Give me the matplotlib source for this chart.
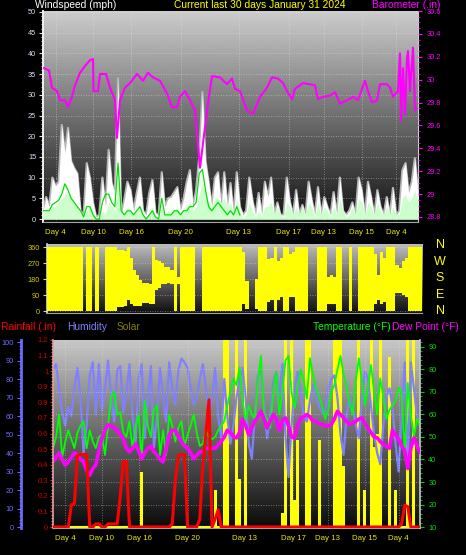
import numpy as np
import matplotlib
matplotlib.use('Agg')
import matplotlib.pyplot as plt
from matplotlib.ticker import MultipleLocator, FuncFormatter

plt.rcParams['font.family'] = ['Liberation Sans', 'DejaVu Sans']

# ---------------- data ----------------
STEP = 0.25  # days between samples

day_labels = ['Day 4', 'Day 10', 'Day 16', 'Day 20', 'Day 13', 'Day 17', 'Day 13', 'Day 15', 'Day 4']
day_label_pos = [1.0, 4.0, 7.05, 11.0, 15.65, 19.65, 22.45, 25.5, 28.25]

wind_gust = [2, 5.3, 3, 10, 8, 9, 22.7, 16, 22, 14,
             12.3, 11, 2, 1, 13.5, 10, 4, 0.5, 1, 10,
             3, 16.7, 8.7, 6.3, 34, 1, 4.6, 9, 7, 2,
             6.3, 10, 2, 1, 6.3, 9.4, 1.4, 1, 11.3, 3,
             5, 5.3, 6.5, 7.7, 2, 5, 9, 11.8, 3, 7,
             15, 30.7, 14, 9, 3, 10, 11.3, 3, 11.3, 3,
             8.7, 1, 11.3, 3, 1, 2, 10, 4.6, 1, 6.3,
             1, 9, 5.3, 10, 1, 4, 1, 1, 10, 4.2,
             1, 7, 1, 3.4, 1, 9, 4.6, 1, 7.7, 1,
             5.3, 3, 1, 6.5, 1, 10, 2, 1, 2, 4,
             1, 10, 7, 1, 9, 5.3, 1, 7, 3, 1,
             5.3, 1, 7.5, 1, 2, 11.8, 13.5, 6.3, 9, 14.7,
             6.3]

wind_speed = [1.5, 2, 2, 3, 3, 4, 5, 6, 6, 5,
              4, 3, 1, 0.5, 2, 3, 2, 0, 0, 2,
              1, 4, 3, 2, 9, 1, 1, 3, 2, 1,
              2, 3, 1, 0, 1, 3, 0.5, 0, 3, 1,
              2, 2, 2, 3, 1, 2, 3, 4, 2, 3,
              6, 9, 6, 4, 3, 5, 5, 4, 5, 3,
              4, 1, 5, 2, 0, 1, 4, 2, 0.5, 2,
              0.5, 3, 3, 4, 1, 3, 1, 0.5, 4, 3,
              1, 3, 1, 3, 1, 4, 3, 0.5, 4, 1,
              3, 2, 0.5, 3, 1, 5, 2, 0.5, 1, 3,
              1, 5, 4, 1, 4, 3, 1, 4, 2, 1,
              3, 1, 3, 1, 1, 5, 6, 4, 5, 7,
              4]

wind_avg = [2, 2, 2, 3.5, 4, 4.5, 6, 8.5, 7, 5,
            4, 3, 2, 0.5, 3, 3, 1, 0, 0, 4,
            6, 6, 4, 3, 13.5, 2, 1, 2, 2, 1,
            2, 3, 1, 0, 1, 2, 0.5, 0, 5, 1,
            1, 1, 2, 2, 1, 2, 2, 3, 3, 4,
            11, 12, 7, 3, 2, 3, 4, 3, 2, 1,
            2, 1, 3, 1]

baro_days = [0.08, 0.48, 0.72, 1.12, 1.36, 1.76, 2.0, 2.32, 2.56, 2.96,
             3.36, 3.76, 4.0, 4.04, 4.4, 4.56, 5.04, 5.36, 5.76, 5.92,
             6.16, 6.56, 6.96, 7.52, 8.0, 8.4, 8.8, 9.36, 9.92, 10.32,
             10.72, 10.96, 11.36, 11.76, 12.16, 12.56, 13.12, 13.52, 14.16, 14.72,
             15.12, 15.36, 15.76, 16.32, 16.8, 17.36, 17.92, 18.32, 18.8, 19.2,
             19.52, 19.92, 20.16, 20.8, 21.36, 21.76, 22.0, 22.4, 22.96, 23.36,
             23.76, 24.32, 24.8, 25.2, 25.52, 25.76, 26.0, 26.32, 26.72, 26.96,
             27.52, 27.76, 28.0, 28.4, 28.56, 28.64, 28.8, 28.96, 29.12, 29.2,
             29.36, 29.6, 29.76, 29.84]
barometer = [30.10, 30.08, 29.93, 29.90, 29.82, 29.82, 29.76, 29.85, 29.95, 30.06,
             30.12, 30.17, 30.18, 29.90, 29.90, 30.05, 30.05, 29.93, 29.82, 29.49,
             29.82, 29.93, 29.97, 30.05, 29.99, 30.06, 30.02, 29.99, 29.88, 29.76,
             29.76, 29.85, 29.90, 29.82, 29.73, 29.23, 29.73, 30.03, 30.02, 29.96,
             30.01, 29.92, 29.90, 29.73, 29.70, 29.85, 29.93, 30.02, 30.01, 29.97,
             29.90, 29.83, 29.92, 29.97, 29.96, 29.95, 29.83, 29.85, 29.86, 29.89,
             29.79, 29.82, 29.85, 29.82, 29.92, 29.99, 29.90, 29.80, 29.82, 29.96,
             29.96, 29.93, 29.85, 29.90, 30.23, 29.64, 30.10, 29.70, 30.19, 30.25,
             29.90, 30.28, 29.73, 29.75]

dir_low = [0, 0, 0, 0, 0, 0, 0, 0, 0, 0,
           0, 0, 0, 0, 0, 0, 0, 0, 0, 0,
           0, 0, 0, 25, 25, 30, 60, 40, 30, 30,
           30, 45, 45, 40, 40, 118, 130, 150, 150, 155,
           150, 0, 150, 0, 0, 0, 0, 0, 0, 0,
           0, 0, 0, 0, 0, 0, 0, 0, 0, 0,
           0, 0, 0, 40, 10, 0, 0, 10, 0, 0,
           0, 50, 60, 0, 60, 80, 0, 0, 80, 80,
           0, 0, 0, 0, 0, 0, 0, 0, 0, 0,
           40, 40, 40, 0, 0, 0, 0, 0, 0, 0,
           0, 0, 0, 0, 0, 40, 60, 40, 50, 0,
           0, 0, 100, 100, 90, 80, 0, 0, 0, 0,
           0]
dir_high = [360, 360, 360, 360, 360, 360, 360, 360, 360, 360,
            360, 360, 0, 360, 360, 0, 360, 0, 0, 360,
            360, 360, 360, 345, 345, 340, 360, 300, 230, 200,
            175, 160, 155, 150, 360, 287, 280, 270, 250, 250,
            230, 360, 190, 360, 360, 360, 360, 360, 0, 0,
            360, 360, 360, 360, 360, 360, 360, 360, 360, 360,
            360, 360, 360, 330, 170, 0, 0, 180, 360, 360,
            360, 290, 300, 360, 280, 300, 360, 360, 320, 330,
            360, 360, 360, 360, 0, 0, 0, 360, 360, 360,
            190, 200, 190, 360, 360, 0, 0, 360, 0, 0,
            360, 360, 360, 360, 360, 320, 200, 330, 300, 360,
            360, 360, 260, 240, 280, 300, 360, 360, 360, 360,
            360]

humidity = [85, 88, 75, 62, 55, 65, 60, 75, 86, 70,
            40, 55, 82, 89, 61, 88, 63, 75, 90, 70,
            57, 85, 87, 62, 72, 88, 60, 46, 80, 88,
            48, 70, 87, 43, 60, 86, 70, 57, 89, 75,
            66, 85, 91, 89, 86, 75, 66, 70, 80, 88,
            75, 61, 70, 86, 60, 48, 80, 60, 45, 55,
            70, 80, 86, 70, 45, 37, 60, 82, 84, 65,
            48, 60, 78, 84, 70, 88, 50, 27, 55, 75,
            84, 72, 60, 57, 68, 77, 72, 65, 62, 61,
            75, 80, 82, 70, 50, 39, 60, 70, 65, 55,
            48, 70, 84, 80, 65, 50, 40, 34, 55, 70,
            75, 65, 45, 30, 60, 89, 34, 89, 75, 60,
            55]

temperature = [45, 50, 60, 41, 48, 53, 49, 45, 52, 55,
               57, 45, 53, 48, 45, 50, 51, 42, 55, 68,
               70, 60, 61, 52, 50, 57, 45, 55, 60, 40,
               66, 55, 50, 62, 64, 42, 53, 42, 60, 55,
               48, 54, 57, 46, 51, 55, 60, 52, 46, 47,
               53, 50, 49, 50, 53, 55, 57, 64, 70, 76,
               73, 81, 66, 57, 64, 60, 58, 75, 86, 60,
               58, 54, 70, 79, 60, 70, 84, 86, 70, 63,
               72, 80, 75, 67, 85, 78, 71, 68, 64, 58,
               62, 70, 73, 80, 86, 78, 72, 65, 60, 75,
               85, 75, 64, 72, 82, 70, 60, 76, 68, 58,
               62, 64, 66, 72, 70, 42, 74, 60, 50, 58,
               55]

dew_point = [39, 41, 43, 40, 37.5, 39, 41, 43, 42, 40,
             39, 35, 33, 36, 37.5, 44, 49.6, 53, 55.5, 55,
             54, 53, 51, 49, 45, 43.4, 45, 46.7, 44, 40.3,
             43, 45, 46, 43.4, 42, 40, 38.9, 45, 51, 53,
             53, 50, 48, 46, 45, 43, 40.3, 42, 43.4, 43.4,
             45, 45, 45, 45, 46.5, 48, 50, 53, 52, 50,
             49.6, 52, 58, 55, 51, 54, 57, 59, 61.4, 58,
             54, 57, 60, 58, 53, 57, 58.5, 55, 50, 49.6,
             55, 58.5, 59, 60, 59, 57, 57, 56, 55.5, 55,
             55, 55.5, 58, 61.4, 60, 58.5, 57, 55.5, 56, 57,
             58, 58.5, 56, 54, 52, 50, 49.6, 48, 46.7, 46,
             45, 53, 51, 49, 46, 44, 36, 45, 49.6, 46,
             43.4]

rainfall = [0, 0, 0, 0, 0, 0, 0.143, 0.15, 0.46, 0.465,
            0.465, 0.465, 0, 0, 0.02, 0.02, 0, 0, 0.02, 0.02,
            0.02, 0.02, 0.2, 0.42, 0.42, 0, 0, 0, 0, 0,
            0, 0, 0, 0, 0, 0, 0, 0, 0, 0.02,
            0.3, 0.46, 0.465, 0.465, 0, 0, 0, 0, 0.05, 0.4,
            0.6, 0.816, 0, 0.05, 0.11, 0, 0, 0, 0, 0,
            0, 0, 0, 0, 0, 0, 0, 0, 0, 0,
            0, 0, 0, 0, 0, 0, 0, 0, 0, 0,
            0, 0, 0, 0, 0, 0, 0, 0, 0, 0,
            0, 0, 0, 0, 0, 0, 0, 0, 0, 0,
            0, 0, 0, 0, 0, 0, 0, 0, 0, 0,
            0, 0, 0, 0, 0.02, 0.14, 0.13, 0, 0, 0,
            0]

solar = [0, 0, 0, 0, 0, 0, 0, 0, 0, 0,
         0, 0, 0, 0, 0, 0, 0, 0, 0, 0,
         0, 0, 0, 0, 0, 0, 0, 0, 0, 0.3,
         0, 0, 0, 0, 0, 0, 0, 0, 0, 0,
         0, 0, 0, 0, 0, 0, 0, 0, 0, 0,
         0, 0, 0, 0.2, 0, 0, 1, 1, 0, 0,
         1, 0.26, 0, 1, 0, 0, 0, 0, 0, 0,
         0, 0, 0, 0, 0, 0.08, 1, 0, 1, 0.15,
         0.47, 0, 0, 1, 1, 0, 0, 0.47, 0, 0,
         0, 0, 1, 1, 1, 0.33, 0, 0, 0, 0,
         1, 0, 0.2, 0, 1, 0.43, 0.5, 1, 0, 0,
         0.91, 0, 0.2, 0, 0, 0, 1, 0, 1, 0,
         0]

wind_ticks = list(range(0, 51, 5))
baro_ticks = [28.8, 29.0, 29.2, 29.4, 29.6, 29.8, 30.0, 30.2, 30.4, 30.6]
dir_ticks = [0, 90, 180, 270, 360]
compass = ['N', 'W', 'S', 'E', 'N']
hum_ticks = list(range(0, 101, 10))
rain_ticks = [0, 0.1, 0.2, 0.3, 0.4, 0.5, 0.6, 0.7, 0.8, 0.9, 1.0, 1.1, 1.2]
temp_ticks = list(range(10, 91, 10))

# ---------------- helpers ----------------
W, H = 466, 555
fig = plt.figure(figsize=(W / 100, H / 100), dpi=100, facecolor='black')


def rect(l, t, r, b):
    return [l / W, 1 - b / H, (r - l) / W, (b - t) / H]


def paint_background(ax, top, bottom):
    shade = np.linspace(top, bottom, 256)[:, None]
    ax.imshow(shade, cmap='gray', vmin=0, vmax=1, aspect='auto',
              extent=(0, 1, 0, 1), transform=ax.transAxes, zorder=0,
              interpolation='bilinear')


def hide_spines(ax, keep=()):
    for name, sp in ax.spines.items():
        sp.set_visible(name in keep)


def fmt_g(v, pos):
    return f'{v:g}'


GRID = dict(color='#e8e8e8', lw=0.6, ls=(0, (1, 2)), alpha=0.55)
TICKFS = 5.3
DAYCOL = '#e6e600'

# ---------------- top panel: wind + barometer ----------------
ax_w = fig.add_axes(rect(43, 11, 418, 222))
paint_background(ax_w, 0.80, 0.07)
t_w = np.arange(len(wind_gust)) * STEP
for y in wind_ticks:
    ax_w.axhline(y, zorder=1, **GRID)
for d in day_label_pos:
    ax_w.axvline(d, zorder=1, **GRID)
ax_w.plot(t_w, wind_gust, color='#b4b4b4', lw=1.6, zorder=2)
ax_w.fill_between(t_w, 0, wind_gust, color='white', lw=0, zorder=3)
ax_w.fill_between(t_w, 0, wind_speed, color='#ccffcc', lw=0, zorder=4)
t_a = np.arange(len(wind_avg)) * STEP
ax_w.plot(t_a, wind_avg, color='#00e000', lw=0.9, zorder=5)
ax_w.set_xlim(0, 30)
ax_w.set_ylim(-0.72, 50.24)
ax_w.set_yticks(wind_ticks)
ax_w.yaxis.set_minor_locator(MultipleLocator(1))
ax_w.tick_params(axis='y', which='major', colors='#e0e0e0', labelcolor='#d8e0ff',
                 labelsize=TICKFS, length=3, width=0.8, pad=2)
ax_w.tick_params(axis='y', which='minor', colors='#e0e0e0', length=1.5, width=0.6)
ax_w.set_xticks(day_label_pos)
ax_w.set_xticklabels(day_labels, color=DAYCOL, fontsize=5.7)
ax_w.tick_params(axis='x', length=0, pad=5)
hide_spines(ax_w, keep=('left', 'bottom', 'right'))
ax_w.spines['left'].set_color('#f0f0f0')
ax_w.spines['left'].set_linewidth(1.4)
ax_w.spines['bottom'].set_color('#a0a0a0')
ax_w.spines['right'].set_color('#d0d0d0')

ax_p = ax_w.twinx()
ax_p.plot(baro_days, barometer, color='#ff00ff', lw=1.5, zorder=6)
ax_p.set_ylim(28.756, 30.6)
ax_p.set_yticks(baro_ticks)
ax_p.yaxis.set_major_formatter(FuncFormatter(fmt_g))
ax_p.yaxis.set_minor_locator(MultipleLocator(0.05))
ax_p.tick_params(axis='y', which='major', colors='#ff00ff', labelcolor='#ff00ff',
                 labelsize=TICKFS, length=3, width=0.8, pad=3)
ax_p.tick_params(axis='y', which='minor', colors='#ff00ff', length=1.5, width=0.6)
hide_spines(ax_p)

fig.text(35 / W, 1 - 5.5 / H, 'Windspeed (mph)', color='white', fontsize=7.4,
         ha='left', va='center')
fig.text(259.5 / W, 1 - 5.5 / H, 'Current last 30 days January 31 2024', color='#ffff00',
         fontsize=7.4, ha='center', va='center')
fig.text(372 / W, 1 - 5 / H, 'Barometer (.in)', color='#ff00ff', fontsize=7.4,
         ha='left', va='center')

# ---------------- middle panel: wind direction ----------------
ax_d = fig.add_axes(rect(47, 244, 422, 313))
paint_background(ax_d, 0.74, 0.06)
t_d = np.arange(len(dir_low)) * STEP
for y in dir_ticks:
    ax_d.axhline(y, zorder=1, **GRID)
ax_d.fill_between(t_d, dir_low, dir_high, step='mid', color='#ffff00', lw=0, zorder=3)
ax_d.set_xlim(0, 30)
ax_d.set_ylim(-11.25, 376.9)
ax_d.set_yticks(dir_ticks)
ax_d.set_xticks([])
ax_d.tick_params(axis='y', colors='#d0d0d0', labelcolor='#cccc00', labelsize=TICKFS,
                 length=3, width=0.8, pad=2)
hide_spines(ax_d, keep=('left', 'bottom'))
ax_d.spines['left'].set_color('#d8d8d8')
ax_d.spines['left'].set_linewidth(1.2)
ax_d.spines['bottom'].set_color('#a0a0a0')
for letter, yf in zip(compass, [0.985, 0.74, 0.505, 0.26, 0.03]):
    ax_d.text(1.048, yf, letter, transform=ax_d.transAxes, color='#ffff00',
              fontsize=9, ha='center', va='center')

# ---------------- bottom panel ----------------
ax_s = fig.add_axes(rect(53, 340, 420, 528))
paint_background(ax_s, 0.78, 0.04)
t_s = np.arange(len(solar)) * STEP
ax_s.bar(t_s, solar, width=STEP, color='#ffff00', lw=0, zorder=2)
ax_s.axhline(0.004, color='#ffff00', lw=1.5, zorder=2)
ax_s.set_xlim(0, 30)
ax_s.set_ylim(0, 1)
ax_s.set_yticks([])
ax_s.set_xticks(day_label_pos)
ax_s.set_xticklabels(day_labels, color=DAYCOL, fontsize=5.7)
ax_s.tick_params(axis='x', length=0, pad=5)
hide_spines(ax_s, keep=('bottom',))
ax_s.spines['bottom'].set_color('#a0a0a0')

ax_h = ax_s.twinx()
ax_h.plot(np.arange(len(humidity)) * STEP, humidity, color='#8080ff', lw=1.6)
ax_h.set_ylim(-0.54, 101.1)
ax_h.yaxis.tick_left()
ax_h.set_yticks(hum_ticks)
ax_h.yaxis.set_minor_locator(MultipleLocator(2))
ax_h.tick_params(axis='y', which='major', colors='#6a6aff', labelcolor='#6e6eff',
                 labelsize=TICKFS, length=3, width=0.8, pad=2)
ax_h.tick_params(axis='y', which='minor', colors='#6a6aff', length=1.5, width=0.6)
hide_spines(ax_h, keep=('left',))
ax_h.spines['left'].set_position(('outward', 23))
ax_h.spines['left'].set_color('#6a6aff')
ax_h.spines['left'].set_linewidth(2)

ax_t = ax_s.twinx()
for y in temp_ticks:
    ax_t.axhline(y, zorder=0, **GRID)
for d in day_label_pos:
    ax_t.axvline(d, zorder=0, **GRID)
t_t = np.arange(len(temperature)) * STEP
ax_t.plot(t_t, temperature, color='#00ff00', lw=1.3, zorder=2)
ax_t.plot(np.arange(len(dew_point)) * STEP, dew_point, color='#ff00ff', lw=2.6, zorder=3)
ax_t.set_ylim(9.56, 93.1)
ax_t.set_yticks(temp_ticks)
ax_t.yaxis.set_minor_locator(MultipleLocator(2))
ax_t.tick_params(axis='y', which='major', colors='#00d000', labelcolor='#00e000',
                 labelsize=TICKFS, length=3, width=0.8, pad=3)
ax_t.tick_params(axis='y', which='minor', colors='#00d000', length=1.5, width=0.6)
hide_spines(ax_t, keep=('right',))
ax_t.spines['right'].set_color('#c8c8c8')
ax_t.spines['right'].set_linewidth(1.2)

ax_r = ax_s.twinx()
ax_r.plot(np.arange(len(rainfall)) * STEP, rainfall, color='#ff0000', lw=2.2, zorder=4)
ax_r.set_ylim(-0.0064, 1.2)
ax_r.yaxis.tick_left()
ax_r.set_yticks(rain_ticks)
ax_r.yaxis.set_major_formatter(FuncFormatter(fmt_g))
ax_r.yaxis.set_minor_locator(MultipleLocator(0.02))
ax_r.tick_params(axis='y', which='major', colors='#ff2020', labelcolor='#d00000',
                 labelsize=TICKFS, length=2.5, width=0.8, pad=1)
ax_r.tick_params(axis='y', which='minor', colors='#ff8080', length=1.2, width=0.6)
hide_spines(ax_r, keep=('left',))
ax_r.spines['left'].set_color('#e0a0a0')
ax_r.spines['left'].set_linewidth(1.2)
ax_r.spines['left'].set_linestyle((0, (1, 1)))

legend_y = 1 - 327 / H
fig.text(1 / W, legend_y, 'Rainfall (.in)', color='#ff0000', fontsize=7.4, ha='left', va='center')
fig.text(67 / W, legend_y, 'Humidity', color='#8080ff', fontsize=7.4, ha='left', va='center')
fig.text(117 / W, legend_y, 'Solar', color='#808000', fontsize=7.4, ha='left', va='center')
fig.text(313 / W, legend_y, 'Temperature (°F)', color='#00ff00', fontsize=7.4, ha='left', va='center')
fig.text(392 / W, legend_y, 'Dew Point (°F)', color='#ff00ff', fontsize=7.4, ha='left', va='center')

fig.savefig('out.png', dpi=100, facecolor='black')
